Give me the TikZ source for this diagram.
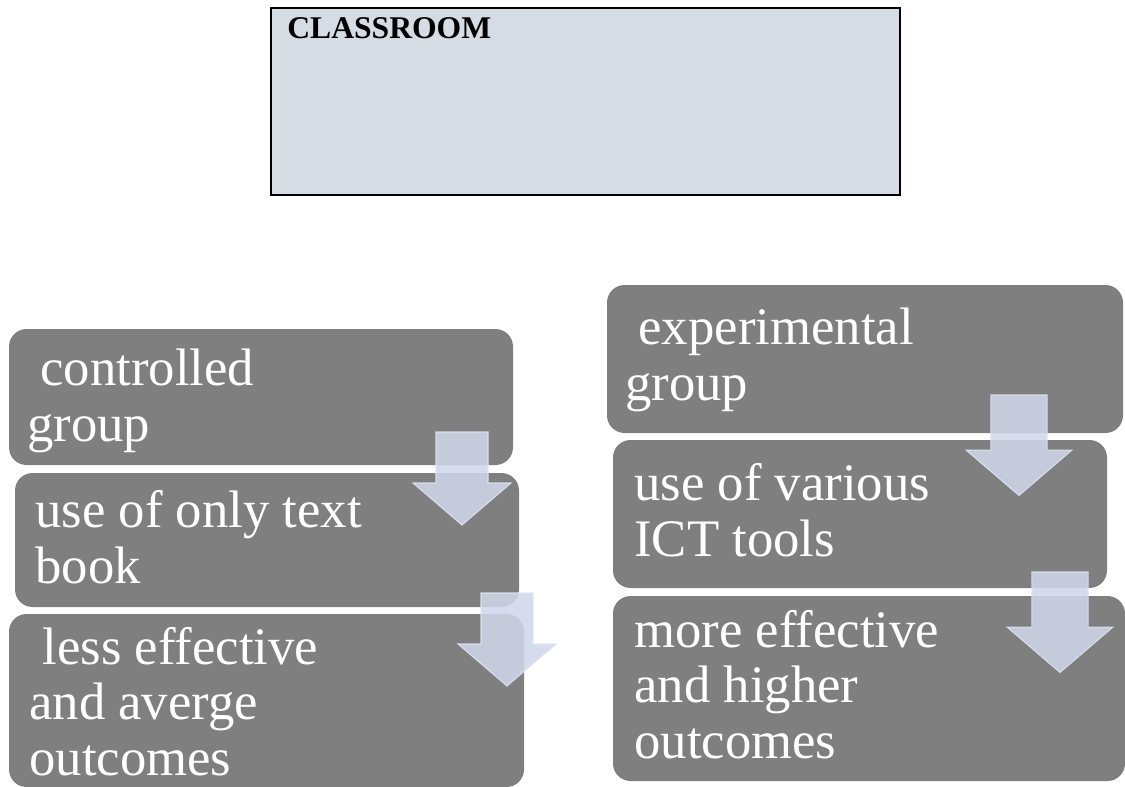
\documentclass[tikz,border=0pt]{standalone}
\usepackage{fontspec}
\setmainfont{Liberation Serif}
\usetikzlibrary{fit}
\definecolor{boxgray}{HTML}{7F7F7F}
\definecolor{roomfill}{HTML}{D6DCE4}
\definecolor{arrowfill}{RGB}{208,214,234}
\definecolor{arrowline}{RGB}{222,227,242}
\tikzset{
  grpbox/.style={fill=boxgray, draw=none, rounded corners=10pt, inner sep=0pt},
  grptext/.style={text=white, align=left, inner sep=0pt, font=\fontsize{30}{31.5}\selectfont},
  downarrow/.style={fill=arrowfill, draw=arrowline, line width=0.6pt, fill opacity=0.88, draw opacity=0.9}
}

\begin{document}
\begin{tikzpicture}[x=0.02cm, y=-0.02cm]
  \useasboundingbox (0,0) rectangle (1125,787);

  % top box
  \node[fill=roomfill, draw=black, line width=1pt, inner sep=0pt, fit={(271,8) (900,195)}] (room) {};
  \node[anchor=base west, inner sep=0pt, font=\fontsize{18}{20}\selectfont\bfseries] (roomtext) at (287,39) {CLASSROOM};

  % left column
  \node[grpbox, fit={(9,329) (513,465)}]  (ctrl) {};
  \node[grpbox, fit={(15,473) (519,607)}] (book) {};
  \node[grpbox, fit={(9,614) (524,787)}]  (less) {};

  % right column
  \node[grpbox, fit={(607,285) (1123,433)}] (expt) {};
  \node[grpbox, fit={(613,440) (1107,588)}] (ict)  {};
  \node[grpbox, fit={(613,596) (1125,781)}] (more) {};

  % texts, anchored at the baseline of their last line
  \node[grptext, anchor=base west] (ctrltext) at (27,441)  {\ controlled\\group};
  \node[grptext, anchor=base west] (booktext) at (35,583)  {use of only text\\book};
  \node[grptext, anchor=base west] (lesstext) at (29,775)  {\ less effective\\and averge\\outcomes};
  \node[grptext, anchor=base west] (expttext) at (625,400) {\ experimental\\group};
  \node[grptext, anchor=base west] (icttext)  at (634,556) {use of various\\ICT tools};
  \node[grptext, anchor=base west] (moretext) at (634,758) {more effective\\and higher\\outcomes};

  % block arrows
  \foreach \cx/\ty/\k in {462/432/1, 507/593/1, 1019/395/1.08, 1060/572/1.08}
    \draw[downarrow] ({\cx-26*\k},\ty) -- ({\cx+26*\k},\ty) -- ({\cx+26*\k},{\ty+51*\k})
      -- ({\cx+49*\k},{\ty+51*\k}) -- (\cx,{\ty+93*\k}) -- ({\cx-49*\k},{\ty+51*\k})
      -- ({\cx-26*\k},{\ty+51*\k}) -- cycle;
\end{tikzpicture}
\end{document}
